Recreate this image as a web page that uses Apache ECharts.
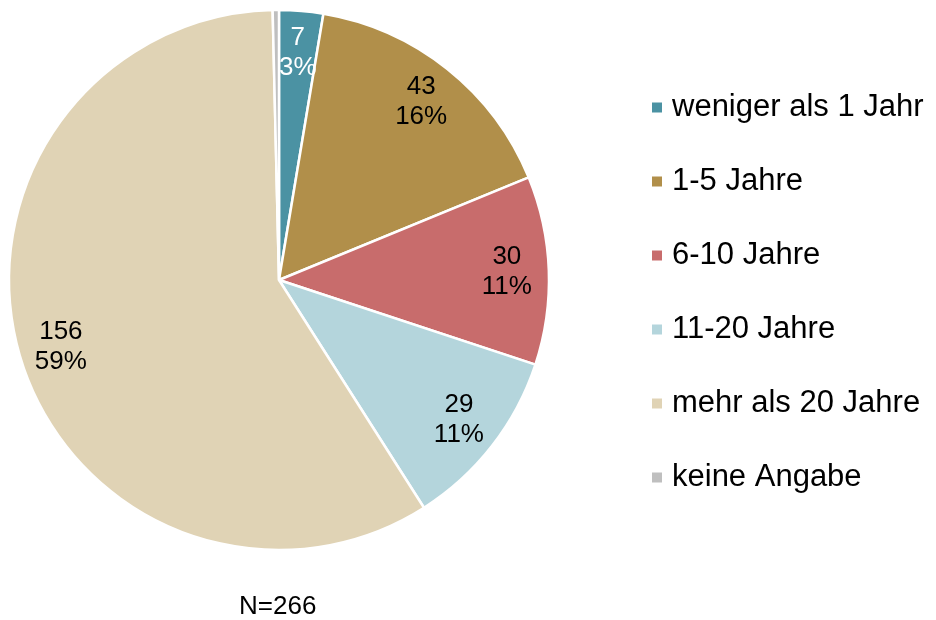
<!DOCTYPE html>
<html>
<head>
<meta charset="utf-8">
<script src="https://cdn.jsdelivr.net/npm/echarts@6/dist/echarts.min.js"></script>
<style>
  html, body { margin: 0; padding: 0; background: #fff; }
  #chart { width: 936px; height: 620px; }
</style>
</head>
<body>
<div id="chart"></div>
<script>
var categories = ['weniger als 1 Jahr', '1-5 Jahre', '6-10 Jahre', '11-20 Jahre', 'mehr als 20 Jahre', 'keine Angabe']
var counts = [7, 43, 30, 29, 156, 1]
var colors = ['#4b92a3', '#b18f4a', '#c86c6c', '#b4d5dc', '#e0d3b5', '#bfbfbf']
var labelColors = ['#fff', '#000', '#000', '#000', '#000', '#000']
var total = 266

var font = 'Arial, "Liberation Sans", sans-serif'

var sliceData = categories.map(function (name, i) {
  return { name: name, value: counts[i], itemStyle: { color: colors[i] } }
})

// second ring only carries the labels, so they sit further out than the middle
var labelData = categories.map(function (name, i) {
  return {
    name: name,
    value: counts[i],
    label: { show: i < 5, color: labelColors[i] }
  }
})

var myChart = echarts.init(document.getElementById('chart'))

var option = {
  animation: false,
  legend: {
    orient: 'vertical',
    left: 645,
    top: 87,
    itemWidth: 12,
    itemHeight: 12,
    itemGap: 43,
    icon: 'rect',
    selectedMode: false,
    data: categories,
    textStyle: { fontFamily: font, fontSize: 31, color: '#000', lineHeight: 31, padding: [0, 0, 0, 4] }
  },
  graphic: [{
    type: 'text',
    left: 239,
    top: 594,
    style: { text: 'N=' + total, fontFamily: font, fontSize: 26, fill: '#000' }
  }],
  series: [
    {
      name: 'slices',
      type: 'pie',
      center: [279, 280],
      radius: [0, 270],
      startAngle: 90,
      clockwise: true,
      silent: true,
      label: { show: false },
      labelLine: { show: false },
      itemStyle: { borderColor: '#fff', borderWidth: 2.5 },
      data: sliceData
    },
    {
      name: 'labels',
      type: 'pie',
      center: [279, 280],
      radius: [180, 270],
      startAngle: 90,
      clockwise: true,
      silent: true,
      itemStyle: { color: 'rgba(0,0,0,0)', borderWidth: 0 },
      labelLine: { show: false },
      label: {
        position: 'inside',
        fontFamily: font,
        fontSize: 26,
        lineHeight: 30,
        formatter: function (p) {
          return p.value + '\n' + Math.round(p.value / total * 100) + '%'
        }
      },
      data: labelData
    }
  ]
}

myChart.setOption(option)
</script>
</body>
</html>
